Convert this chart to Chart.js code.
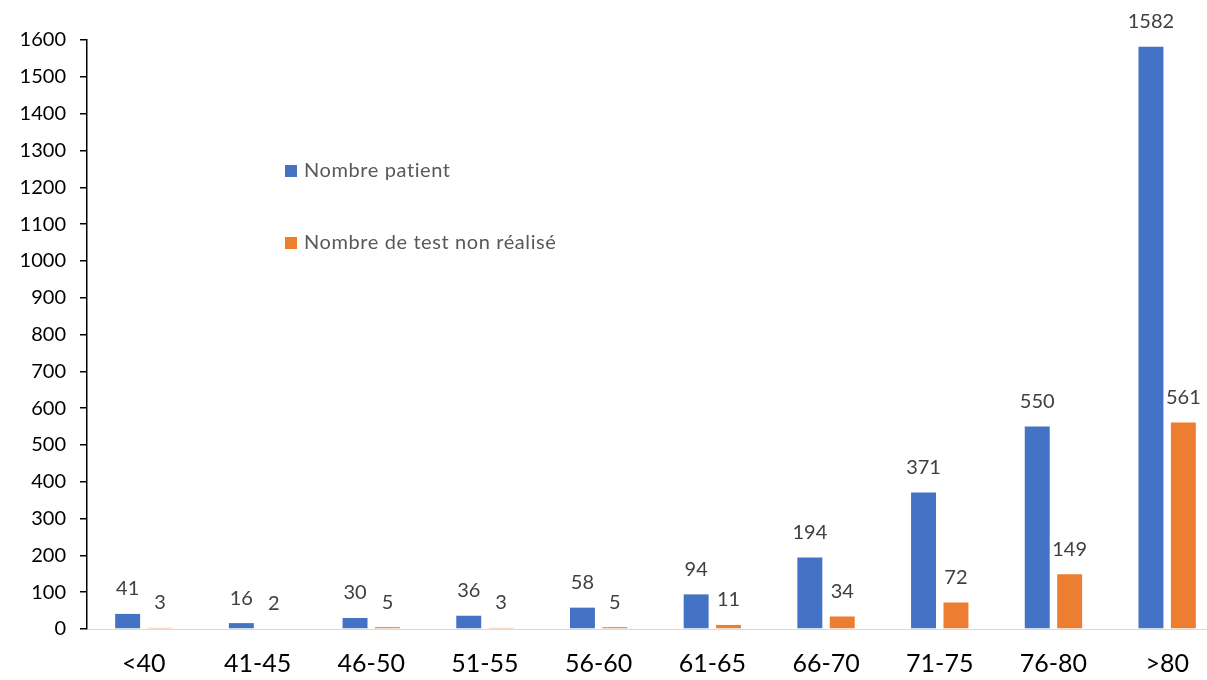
<!DOCTYPE html>
<html>
<head>
<meta charset="utf-8">
<script src="https://cdn.jsdelivr.net/npm/chart.js@4"></script>
<style>
  html, body { margin: 0; padding: 0; background: #fff; overflow: hidden; }
  #wrap { width: 1224px; height: 680px; }
</style>
</head>
<body>
<div id="wrap"><canvas id="myChart"></canvas></div>
<script>
// Age groups
const labels = ['<40', '41-45', '46-50', '51-55', '56-60', '61-65', '66-70', '71-75', '76-80', '>80'];
const patients = [41, 16, 30, 36, 58, 94, 194, 371, 550, 1582];
const notDone = [3, 2, 5, 3, 5, 11, 34, 72, 149, 561];
const yTicks = [0, 100, 200, 300, 400, 500, 600, 700, 800, 900, 1000, 1100, 1200, 1300, 1400, 1500, 1600];

const FONT = 'Lato, "Open Sans", sans-serif';

// values above the bars
const valueLabels = {
    id: 'valueLabels',
    afterDatasetsDraw(chart) {
        const ctx = chart.ctx;
        ctx.save();
        ctx.font = '20px ' + FONT;
        ctx.fillStyle = '#404040';
        ctx.textAlign = 'center';
        ctx.textBaseline = 'middle';
        chart.data.datasets.forEach((ds, i) => {
            chart.getDatasetMeta(i).data.forEach((bar, j) => {
                ctx.fillText(ds.data[j], bar.x, bar.y - 25);
            });
        });
        ctx.restore();
    }
};

// legend sitting inside the plot
const innerLegend = {
    id: 'innerLegend',
    afterDraw(chart) {
        const ctx = chart.ctx;
        const rows = [171, 243];
        ctx.save();
        ctx.font = '20px ' + FONT;
        ctx.letterSpacing = '0.6px';
        ctx.textBaseline = 'middle';
        ctx.textAlign = 'left';
        chart.data.datasets.forEach((ds, i) => {
            ctx.fillStyle = ds.backgroundColor;
            ctx.fillRect(285, rows[i] - 6, 12, 12);
            ctx.fillStyle = '#595959';
            ctx.fillText(ds.label, 304, rows[i]);
        });
        ctx.restore();
    }
};

const data = {
    labels: labels,
    datasets: [{
        label: 'Nombre patient',
        backgroundColor: '#4472C4',
        data: patients,
        categoryPercentage: 0.57,
        barPercentage: 0.77
    }, {
        label: 'Nombre de test non réalisé',
        backgroundColor: '#ED7D31',
        data: notDone,
        categoryPercentage: 0.57,
        barPercentage: 0.77
    }]
};

const config = {
    type: 'bar',
    data: data,
    plugins: [valueLabels, innerLegend],
    options: {
        responsive: true,
        maintainAspectRatio: false,
        animation: false,
        layout: { padding: { top: 40, right: 0, left: 0, bottom: 0 } },
        plugins: {
            legend: { display: false },
            tooltip: { enabled: false }
        },
        scales: {
            x: {
                grid: { drawOnChartArea: false, drawTicks: false },
                border: { display: true, color: '#d9d9d9', width: 1 },
                ticks: { color: '#000', font: { family: FONT, size: 25 }, padding: 20, maxRotation: 0 },
                afterFit(scale) { scale.height = 51; }
            },
            y: {
                min: 0,
                max: 1600,
                afterBuildTicks(scale) { scale.ticks = yTicks.map(v => ({ value: v })); },
                grid: { drawOnChartArea: false, drawTicks: true, tickLength: 7, color: '#000', lineWidth: 1.5 },
                border: { display: true, color: '#000', width: 1.5 },
                ticks: {
                    color: '#000',
                    font: { family: FONT, size: 20 },
                    padding: 14,
                    callback: v => String(v)
                },
                afterFit(scale) { scale.width = 87; }
            }
        }
    }
};

const myChart = new Chart(document.getElementById('myChart'), config);
</script>
</body>
</html>
